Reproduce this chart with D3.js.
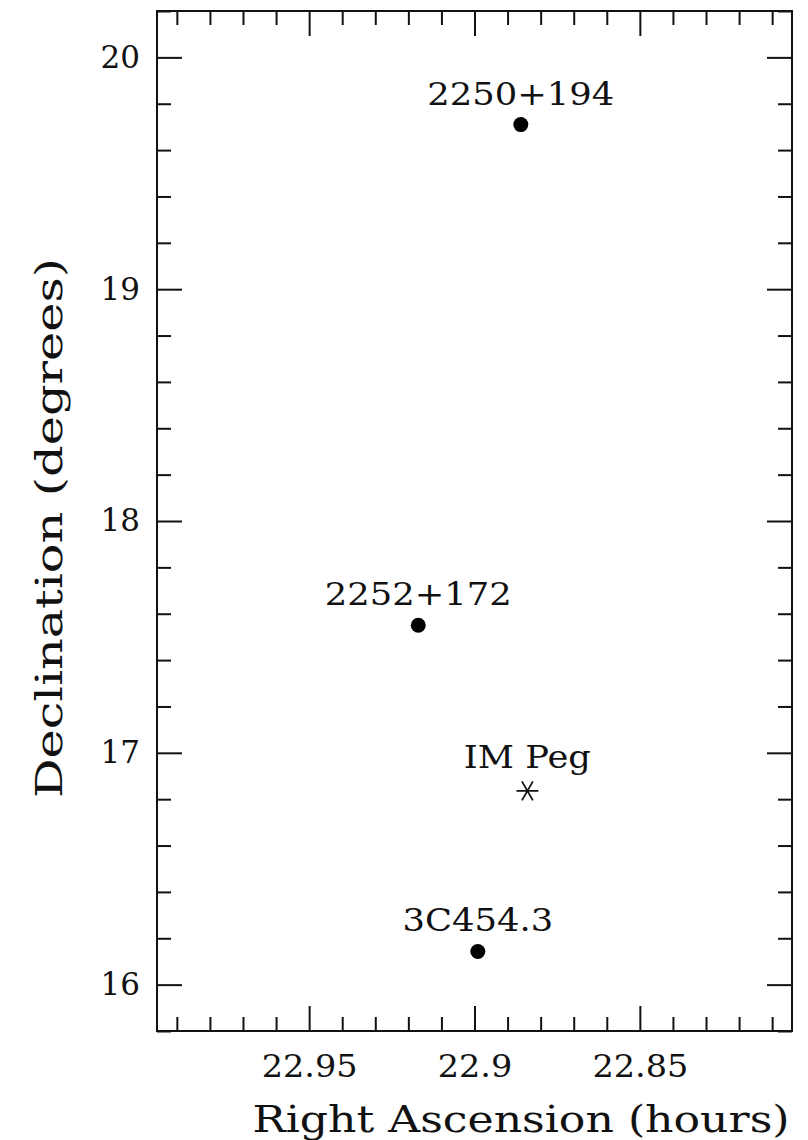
<!DOCTYPE html>
<html>
<head>
<meta charset="utf-8">
<script src="https://cdn.jsdelivr.net/npm/d3@7"></script>
<style>
  body { margin: 0; background: #fff; }
  svg text { font-family: "DejaVu Serif", "Liberation Serif", serif; fill: #111; }
</style>
</head>
<body>
<svg id="chart" width="808" height="1140"></svg>
<script>
// source positions (RA in hours, Dec in degrees)
const names = ['2250+194', '2252+172', 'IM Peg', '3C454.3'];
const ra = [22.886, 22.917, 22.884, 22.899];
const dec = [19.71, 17.55, 16.836, 16.143];
const kinds = ['dot', 'dot', 'star', 'dot'];

const raTicks = [22.95, 22.9, 22.85];
const raTickLabels = ['22.95', '22.9', '22.85'];
const raMinor = [22.99, 22.98, 22.97, 22.96, 22.94, 22.93, 22.92, 22.91,
                 22.89, 22.88, 22.87, 22.86, 22.84, 22.83, 22.82, 22.81];
const decTicks = [16, 17, 18, 19, 20];
const decMinor = [15.8, 16.2, 16.4, 16.6, 16.8, 17.2, 17.4, 17.6, 17.8,
                  18.2, 18.4, 18.6, 18.8, 19.2, 19.4, 19.6, 19.8, 20.2];

const plotLeft = 157, plotRight = 792, plotTop = 11, plotBottom = 1031;
const svg = d3.select('#chart');

// RA increases to the left
const x = d3.scaleLinear().domain([22.996, 22.804]).range([plotLeft, plotRight]);
const y = d3.scaleLinear().domain([15.8, 20.2]).range([plotBottom, plotTop]);

const MAJ = 25, MIN = 14;

// the original plot font is wider than DejaVu Serif, stretch a bit
function widen(sel, k) {
  sel.each(function () {
    const w = this.getComputedTextLength();
    if (w > 0) d3.select(this).attr('textLength', w * k).attr('lengthAdjust', 'spacingAndGlyphs');
  });
}

function styleAxis(g) {
  g.select('.domain').remove();
  g.selectAll('line').attr('stroke', '#111').attr('stroke-width', 2);
  g.selectAll('text').attr('font-size', 31).attr('fill', '#111');
}

// bottom axis with labels
svg.append('g').attr('transform', `translate(0,${plotBottom})`)
  .call(d3.axisBottom(x).tickValues(raTicks).tickSize(-MAJ).tickPadding(24)
    .tickFormat((d, i) => raTickLabels[i]))
  .call(styleAxis)
  .call(g => widen(g.selectAll('text'), 1.08));
svg.append('g').attr('transform', `translate(0,${plotBottom})`)
  .call(d3.axisBottom(x).tickValues(raMinor).tickSize(-MIN).tickFormat(''))
  .call(styleAxis);
// top axis
svg.append('g').attr('transform', `translate(0,${plotTop})`)
  .call(d3.axisTop(x).tickValues(raTicks).tickSize(-MAJ).tickFormat(''))
  .call(styleAxis);
svg.append('g').attr('transform', `translate(0,${plotTop})`)
  .call(d3.axisTop(x).tickValues(raMinor).tickSize(-MIN).tickFormat(''))
  .call(styleAxis);

// left axis with labels
svg.append('g').attr('transform', `translate(${plotLeft},0)`)
  .call(d3.axisLeft(y).tickValues(decTicks).tickSize(-MAJ).tickPadding(17)
    .tickFormat(d3.format('d')))
  .call(styleAxis);
svg.append('g').attr('transform', `translate(${plotLeft},0)`)
  .call(d3.axisLeft(y).tickValues(decMinor).tickSize(-MIN).tickFormat(''))
  .call(styleAxis);
// right axis
svg.append('g').attr('transform', `translate(${plotRight},0)`)
  .call(d3.axisRight(y).tickValues(decTicks).tickSize(-MAJ).tickFormat(''))
  .call(styleAxis);
svg.append('g').attr('transform', `translate(${plotRight},0)`)
  .call(d3.axisRight(y).tickValues(decMinor).tickSize(-MIN).tickFormat(''))
  .call(styleAxis);

// frame
svg.append('rect')
  .attr('x', plotLeft).attr('y', plotTop)
  .attr('width', plotRight - plotLeft).attr('height', plotBottom - plotTop)
  .attr('fill', 'none').attr('stroke', '#111').attr('stroke-width', 2);

// points
const pts = names.map((n, i) => ({ name: n, ra: ra[i], dec: dec[i], kind: kinds[i] }));

svg.append('g').selectAll('circle')
  .data(pts.filter(d => d.kind === 'dot'))
  .join('circle')
  .attr('cx', d => x(d.ra))
  .attr('cy', d => y(d.dec))
  .attr('r', 7.5)
  .attr('fill', '#000');

const star = d3.symbol().type(d3.symbolAsterisk).size(340);
svg.append('g').selectAll('path')
  .data(pts.filter(d => d.kind === 'star'))
  .join('path')
  .attr('d', star)
  .attr('transform', d => `translate(${x(d.ra)},${y(d.dec)}) rotate(90)`)
  .attr('fill', 'none')
  .attr('stroke', '#111')
  .attr('stroke-width', 1.8);

const labels = svg.append('g').selectAll('text')
  .data(pts)
  .join('text')
  .attr('x', d => x(d.ra))
  .attr('y', d => y(d.dec) - (d.kind === 'star' ? 23 : 20))
  .attr('text-anchor', 'middle')
  .attr('font-size', 31)
  .text(d => d.name);
widen(labels, 1.14);

// axis titles
svg.append('text')
  .attr('x', 521).attr('y', 1132)
  .attr('text-anchor', 'middle')
  .attr('font-size', 38)
  .attr('textLength', 537)
  .attr('lengthAdjust', 'spacingAndGlyphs')
  .text('Right Ascension (hours)');

svg.append('text')
  .attr('transform', 'translate(62,528) rotate(-90)')
  .attr('text-anchor', 'middle')
  .attr('font-size', 38)
  .attr('textLength', 540)
  .attr('lengthAdjust', 'spacingAndGlyphs')
  .text('Declination (degrees)');
</script>
</body>
</html>
